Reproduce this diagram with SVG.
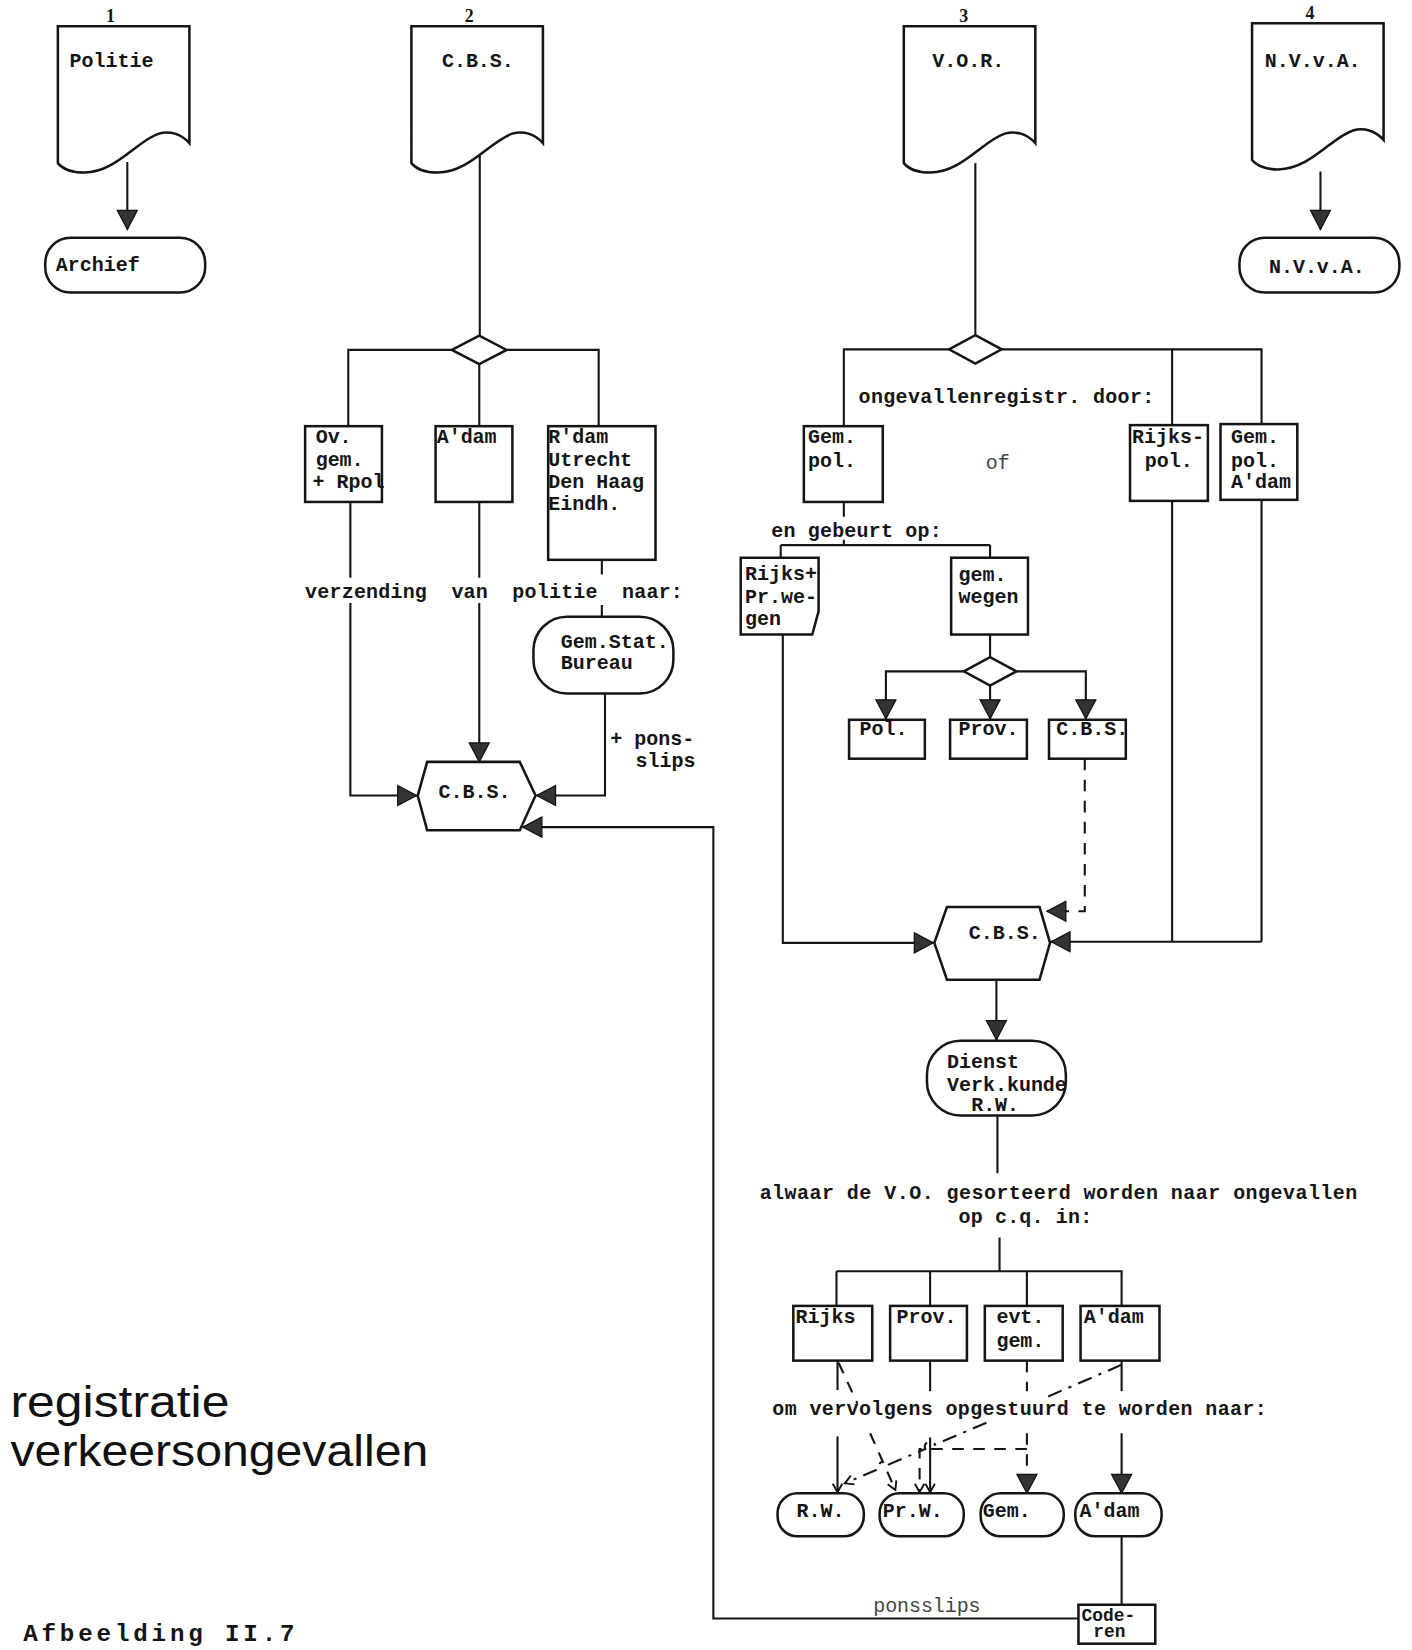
<svg xmlns="http://www.w3.org/2000/svg" width="1412" height="1650" viewBox="0 0 1412 1650">
<defs>
<style>
.s{fill:#fff;stroke:#151515;stroke-width:2.4}
.l{fill:none;stroke:#151515;stroke-width:2}
.d{fill:none;stroke:#151515;stroke-width:2;stroke-dasharray:11 9}
.dd{fill:none;stroke:#151515;stroke-width:2;stroke-dasharray:14 7 3 7}
.t{font-family:"Liberation Mono","DejaVu Sans Mono",monospace;font-size:19px;font-weight:bold;fill:#151515}
.f{fill:#444;font-weight:normal}
.n{font-family:"Liberation Serif","DejaVu Serif",serif;font-size:17px;font-weight:bold;fill:#151515}
.ti{font-family:"Liberation Sans",Arial,sans-serif;font-size:43px;fill:#111}
.cap{font-family:"Liberation Mono","DejaVu Sans Mono",monospace;font-size:23px;font-weight:bold;fill:#151515}
</style>
<marker id="a" viewBox="-20 -11 22 22" refX="0" refY="0" markerWidth="22" markerHeight="22" markerUnits="userSpaceOnUse" orient="auto"><path d="M0,0 L-18,-9.5 L-18,9.5 Z" fill="#333" stroke="#111" stroke-width="1.2"/></marker>
<marker id="sa" viewBox="-10 -6 12 12" refX="0" refY="0" markerWidth="12" markerHeight="12" markerUnits="userSpaceOnUse" orient="auto"><path d="M-8,-4.5 L0,0 L-8,4.5" fill="none" stroke="#111" stroke-width="1.8"/></marker>
<path id="doc" d="M0,0 H125 V111 C117,102 106,99 96,102 C76,108 55,139 25,139 C13,139 4,135 0,130 Z"/>
</defs>
<rect width="1412" height="1650" fill="#fff"/>
<g transform="scale(1.05216 1.0523)">

<g id="column-numbers">
<text class="n" x="105" y="21" text-anchor="middle">1</text>
<text class="n" x="446" y="21" text-anchor="middle">2</text>
<text class="n" x="916" y="21" text-anchor="middle">3</text>
<text class="n" x="1245" y="18" text-anchor="middle">4</text>
</g>

<g id="connectors">
<path class="l" d="M121,154 V218" marker-end="url(#a)"/>
<path class="l" d="M1255,163 V218" marker-end="url(#a)"/>
<path class="l" d="M456,148 V319"/>
<path class="l" d="M429.5,332.5 H331 V405 M481.5,332.5 H569 V405 M455.5,346 V405"/>
<path class="l" d="M333,477 V549 M455.5,477 V549 M572,532 V546 M572,575 V586"/>
<path class="l" d="M333,573 V756 H396" marker-end="url(#a)"/>
<path class="l" d="M455.5,573 V724" marker-end="url(#a)"/>
<path class="l" d="M575,659 V756 H510" marker-end="url(#a)"/>
<path class="l" d="M1025,1538 H678 V786 H497" marker-end="url(#a)"/>
<path class="l" d="M927,155 V318.5"/>
<path class="l" d="M902,332 H802 V405 M952,332 H1199 V403 M1114,332 V404"/>
<path class="l" d="M802,477 V491 M802,513 V518 M742,518 H941 M742,518 V530 M941,518 V530"/>
<path class="l" d="M941,603 V624.5"/>
<path class="l" d="M916,638 H842 V683" marker-end="url(#a)"/>
<path class="l" d="M966,638 H1032 V683" marker-end="url(#a)"/>
<path class="l" d="M941,651.5 V683" marker-end="url(#a)"/>
<path class="d" d="M1031,721 V866 H995" marker-end="url(#a)"/>
<path class="l" d="M744,603 V896 H887" marker-end="url(#a)"/>
<path class="l" d="M1114,476 V895 M1199,475 V895"/>
<path class="l" d="M1199,895 H999" marker-end="url(#a)"/>
<path class="l" d="M947,931 V988" marker-end="url(#a)"/>
<path class="l" d="M948,1060 V1115 M950,1176 V1208 M795,1208 H1067 M795,1208 V1241 M884,1208 V1241 M976,1208 V1241 M1066,1208 V1241"/>
<path class="l" d="M796,1293 V1321"/>
<path class="l" d="M796,1365 V1418" marker-end="url(#sa)"/>
<path class="d" d="M797,1295 L815,1334"/>
<path class="d" d="M827,1362 L851,1416" marker-end="url(#sa)"/>
<path class="l" d="M884,1293 V1322"/>
<path class="l" d="M884,1366 V1418" marker-end="url(#sa)"/>
<path class="d" d="M976,1293 V1322"/>
<path class="d" d="M976,1362 V1419" marker-end="url(#a)"/>
<path class="d" d="M976,1377 H874 V1418" marker-end="url(#sa)"/>
<path class="l" d="M1066,1293 V1322"/>
<path class="l" d="M1066,1362 V1419" marker-end="url(#a)"/>
<path class="dd" d="M1066,1297 L994,1328"/>
<path class="dd" d="M937.5,1352 L888.6,1372.9 A5,5 0 0 0 879.4,1376.9 L844.8,1391.7 A5,5 0 0 0 835.6,1395.7 L803,1409.6" marker-end="url(#sa)"/>
<path class="l" d="M1066,1460 V1525"/>
</g>

<g id="politie-doc"><use href="#doc" x="55" y="25" class="s"/><text class="t" x="66" y="64">Politie</text></g>
<g id="archief"><rect class="s" x="43" y="226" width="152" height="52" rx="24"/><text class="t" x="53" y="258">Archief</text></g>

<g id="cbs-doc"><use href="#doc" x="391" y="25" class="s"/><text class="t" x="420" y="64">C.B.S.</text></g>
<g id="cbs-decision"><polygon class="s" points="429.5,332.5 455.5,319 481.5,332.5 455.5,346"/></g>
<g id="ov-gem"><rect class="s" x="290" y="405" width="73" height="72"/><text class="t" x="300" y="421">Ov.</text><text class="t" x="300" y="443">gem.</text><text class="t" x="297" y="464">+ Rpol</text></g>
<g id="adam-1"><rect class="s" x="414" y="405" width="73" height="72"/><text class="t" x="415" y="421">A'dam</text></g>
<g id="rdam"><rect class="s" x="521" y="405" width="102" height="127"/><text class="t" x="521" y="421">R'dam</text><text class="t" x="521" y="443">Utrecht</text><text class="t" x="521" y="464">Den Haag</text><text class="t" x="521" y="485">Eindh.</text></g>
<g id="label-verzending"><text class="t" x="290" y="568" xml:space="preserve" textLength="359">verzending  van  politie  naar:</text></g>
<g id="gem-stat"><rect class="s" x="507" y="586" width="133" height="73" rx="32"/><text class="t" x="533" y="616">Gem.Stat.</text><text class="t" x="533" y="636">Bureau</text></g>
<g id="label-ponsslips-1"><text class="t" x="580" y="708" xml:space="preserve">+ pons-</text><text class="t" x="604" y="729">slips</text></g>
<g id="cbs-1"><polygon class="s" points="397,756 406,724 494,724 509,756 494,789 406,789"/><text class="t" x="451" y="758" text-anchor="middle">C.B.S.</text></g>

<g id="vor-doc"><use href="#doc" x="859" y="25" class="s"/><text class="t" x="886" y="64">V.O.R.</text></g>
<g id="vor-decision"><polygon class="s" points="902,332 927,318.5 952,332 927,345.5"/></g>
<g id="label-ongevallenregistr"><text class="t" x="816" y="383" textLength="281">ongevallenregistr. door:</text></g>
<g id="gem-pol"><rect class="s" x="764" y="405" width="75" height="72"/><text class="t" x="768" y="421">Gem.</text><text class="t" x="768" y="444">pol.</text></g>
<g id="label-of"><text class="t f" x="937" y="446">of</text></g>
<g id="rijks-pol"><rect class="s" x="1074" y="404" width="74" height="72"/><text class="t" x="1076" y="421">Rijks-</text><text class="t" x="1088" y="444">pol.</text></g>
<g id="gem-pol-adam"><rect class="s" x="1160" y="403" width="73" height="72"/><text class="t" x="1170" y="421">Gem.</text><text class="t" x="1170" y="444">pol.</text><text class="t" x="1170" y="464">A'dam</text></g>
<g id="label-gebeurt"><text class="t" x="733" y="510" textLength="162">en gebeurt op:</text></g>
<g id="rijks-pr-wegen"><path class="s" d="M704,530 H778 V581 L772,603 H704 Z"/><text class="t" x="708" y="551">Rijks+</text><text class="t" x="708" y="573">Pr.we-</text><text class="t" x="708" y="594">gen</text></g>
<g id="gem-wegen"><rect class="s" x="904" y="530" width="73" height="73"/><text class="t" x="911" y="552">gem.</text><text class="t" x="911" y="573">wegen</text></g>
<g id="wegen-decision"><polygon class="s" points="916,638 941,624.5 966,638 941,651.5"/></g>
<g id="pol"><rect class="s" x="807" y="684" width="72" height="37"/><text class="t" x="817" y="698">Pol.</text></g>
<g id="prov-1"><rect class="s" x="903" y="684" width="73" height="37"/><text class="t" x="911" y="698">Prov.</text></g>
<g id="cbs-box"><rect class="s" x="997" y="684" width="73" height="37"/><text class="t" x="1004" y="698">C.B.S.</text></g>
<g id="cbs-2"><polygon class="s" points="888,896 900,862 988,862 998,896 988,931 900,931"/><text class="t" x="955" y="892" text-anchor="middle">C.B.S.</text></g>
<g id="dienst"><rect class="s" x="881" y="989" width="132" height="71" rx="32"/><text class="t" x="900" y="1015">Dienst</text><text class="t" x="900" y="1037">Verk.kunde</text><text class="t" x="923" y="1056">R.W.</text></g>
<g id="label-alwaar"><text class="t" x="722" y="1139" textLength="568">alwaar de V.O. gesorteerd worden naar ongevallen</text><text class="t" x="911" y="1162" textLength="127">op c.q. in:</text></g>
<g id="rijks"><rect class="s" x="754" y="1241" width="75" height="52"/><text class="t" x="756" y="1257">Rijks</text></g>
<g id="prov-2"><rect class="s" x="846" y="1241" width="73" height="52"/><text class="t" x="852" y="1257">Prov.</text></g>
<g id="evt-gem"><rect class="s" x="936" y="1241" width="74" height="52"/><text class="t" x="947" y="1257">evt.</text><text class="t" x="947" y="1280">gem.</text></g>
<g id="adam-2"><rect class="s" x="1027" y="1241" width="75" height="52"/><text class="t" x="1030" y="1257">A'dam</text></g>
<g id="label-vervolgens"><text class="t" x="734" y="1345" textLength="470">om vervolgens opgestuurd te worden naar:</text></g>
<g id="rw"><rect class="s" x="739" y="1419" width="82" height="41" rx="19"/><text class="t" x="757" y="1442">R.W.</text></g>
<g id="prw"><rect class="s" x="836" y="1419" width="80" height="41" rx="19"/><text class="t" x="839" y="1442">Pr.W.</text></g>
<g id="gem"><rect class="s" x="932" y="1419" width="79" height="41" rx="19"/><text class="t" x="934" y="1442">Gem.</text></g>
<g id="adam-3"><rect class="s" x="1022" y="1419" width="82" height="41" rx="19"/><text class="t" x="1026" y="1442">A'dam</text></g>
<g id="label-ponsslips-2"><text class="t f" x="830" y="1532" textLength="102">ponsslips</text></g>
<g id="coderen"><rect class="s" x="1025" y="1525" width="73" height="37"/><text class="t" x="1028" y="1540" style="font-size:17px">Code-</text><text class="t" x="1039" y="1556" style="font-size:17px">ren</text></g>

<g id="nvva-doc"><use href="#doc" x="1190" y="22" class="s"/><text class="t" x="1202" y="64">N.V.v.A.</text></g>
<g id="nvva-term"><rect class="s" x="1178" y="226" width="152" height="52" rx="24"/><text class="t" x="1206" y="259">N.V.v.A.</text></g>

<g id="title"><text class="ti" x="10" y="1347" textLength="208" lengthAdjust="spacingAndGlyphs">registratie</text><text class="ti" x="10" y="1393" textLength="397" lengthAdjust="spacingAndGlyphs">verkeersongevallen</text></g>
<g id="caption"><text class="cap" x="22" y="1559" textLength="258">Afbeelding II.7</text></g>
</g>
</svg>
